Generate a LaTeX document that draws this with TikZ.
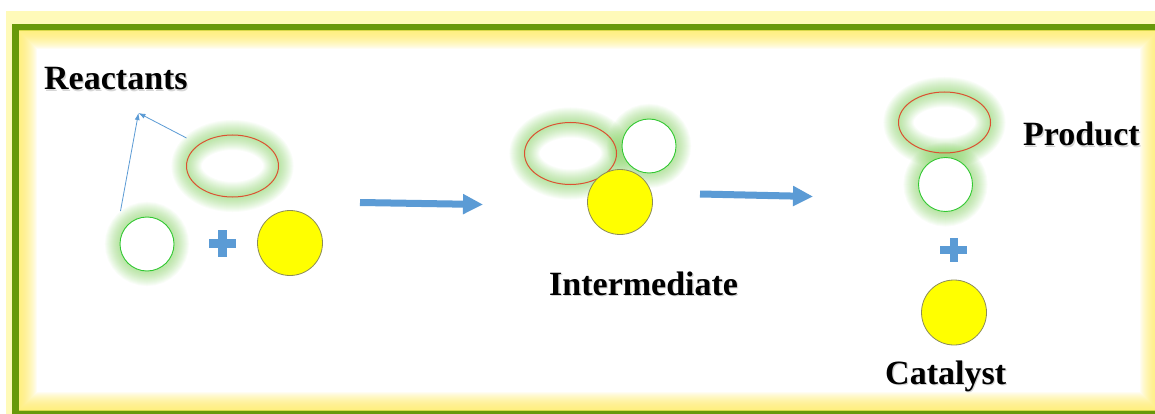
\documentclass[tikz,border=0pt]{standalone}
\usepackage{fontspec}
\setmainfont{Liberation Serif}
\usetikzlibrary{arrows.meta,shapes.geometric}
\definecolor{arrowblue}{RGB}{91,155,213}
\definecolor{bordergreen}{RGB}{104,153,10}
\definecolor{outeryellow}{RGB}{255,250,185}
\definecolor{inneryellow}{RGB}{255,240,100}
\definecolor{glowgreen}{RGB}{125,212,85}
\definecolor{ringgreen}{RGB}{50,200,50}
\definecolor{ringred}{RGB}{220,80,50}
\definecolor{ballyellow}{RGB}{255,255,0}
\definecolor{balledge}{RGB}{140,140,90}
\tikzset{
  whiteball/.style={circle, draw=ringgreen, fill=white, line width=0.9pt, minimum size=54pt, inner sep=0pt},
  redring/.style={ellipse, draw=ringred, line width=1pt, minimum width=92pt, minimum height=62pt, inner sep=0pt},
  yellowball/.style={circle, draw=balledge, fill=ballyellow, line width=0.8pt, minimum size=65pt, inner sep=0pt},
  glowline/.style={draw=glowgreen, opacity=0.045},
  label/.style={font=\fontsize{34}{40}\selectfont\bfseries, inner sep=0pt, anchor=base west},
  labelshadow/.style={label, text=black!40, opacity=0.4},
  bigarrow/.style={draw=arrowblue, line width=7pt, -{Triangle[length=20pt,width=19pt]}},
  thinarrow/.style={draw=arrowblue, line width=0.8pt, -{Latex[length=7pt,width=5pt]}},
  plusbar/.style={fill=arrowblue}
}
\begin{document}
\begin{tikzpicture}[x=1pt,y=-1pt]
\useasboundingbox (0,0) rectangle (1155,414);
\begin{scope}
  \clip (0,0) rectangle (1155,414);
  \fill[white] (0,0) rectangle (1155,414);
  \fill[outeryellow] (6,11) rectangle (1180,430);
  \fill[bordergreen] (12,24) rectangle (1165,420);
  \fill[white] (19,31) rectangle (1158,410);
  \begin{scope}
    \clip (19,31) rectangle (1158,410);
    \foreach \k [evaluate=\k as \lw using 2*\k] in {1,...,18}
      \draw[inneryellow, opacity=0.08, line width=\lw pt] (19,31) rectangle (1158,410);
  \end{scope}
\end{scope}

% glows
\foreach \k [evaluate=\k as \lw using 2*\k] in {1,...,15}{
  \draw[glowline, line width=\lw pt] (147,244) circle[radius=27];
  \draw[glowline, line width=\lw pt] (232.5,166) ellipse[x radius=46, y radius=31];
  \draw[glowline, line width=\lw pt] (570.5,153.5) ellipse[x radius=46, y radius=31];
  \draw[glowline, line width=\lw pt] (649,146) circle[radius=27];
  \draw[glowline, line width=\lw pt] (944.5,122.5) ellipse[x radius=46, y radius=30.5];
  \draw[glowline, line width=\lw pt] (945.5,184.5) circle[radius=27];
}

% reactants
\node[whiteball] (r1) at (147,244) {};
\node[redring] (r2) at (232.5,166) {};
\node[yellowball] (r3) at (290,243) {};
\fill[plusbar] (208.5,239) rectangle (235.5,247.5);
\fill[plusbar] (217.5,230) rectangle (226.5,256.5);
\coordinate (tip) at (138.5,113);
\coordinate (r1lead) at (120.5,211);
\coordinate (r2lead) at (186.5,138);
\draw[thinarrow] (r1lead) -- (tip);
\draw[thinarrow] (r2lead) -- (tip);

% intermediate
\node[redring] (i1) at (570.5,153.5) {};
\node[whiteball] (i2) at (649,146) {};
\node[yellowball] (i3) at (620,202) {};

% products
\node[redring, minimum height=61pt] (p1) at (944.5,122.5) {};
\node[whiteball] (p2) at (945.5,184.5) {};
\node[yellowball] (p3) at (954,312.5) {};
\fill[plusbar] (940,246) rectangle (967,254);
\fill[plusbar] (949.5,238) rectangle (957.5,262);

% big arrows
\coordinate (a1s) at (360,202.5);
\coordinate (a1e) at (483,204.5);
\coordinate (a2s) at (700,194);
\coordinate (a2e) at (813,196.5);
\draw[bigarrow] (a1s) -- (a1e);
\draw[bigarrow] (a2s) -- (a2e);

% labels
\node[labelshadow] (reactS) at (45.2,91.2) {Reactants};
\node[label] (react) at (44,90) {Reactants};
\node[labelshadow] (interS) at (550.2,296.2) {Intermediate};
\node[label] (inter) at (549,295) {Intermediate};
\node[labelshadow] (prodS) at (1024.2,147.2) {Product};
\node[label] (prod) at (1023,146) {Product};
\node[labelshadow] (catS) at (886.2,385.2) {Catalyst};
\node[label] (cat) at (885,384) {Catalyst};
\end{tikzpicture}
\end{document}
